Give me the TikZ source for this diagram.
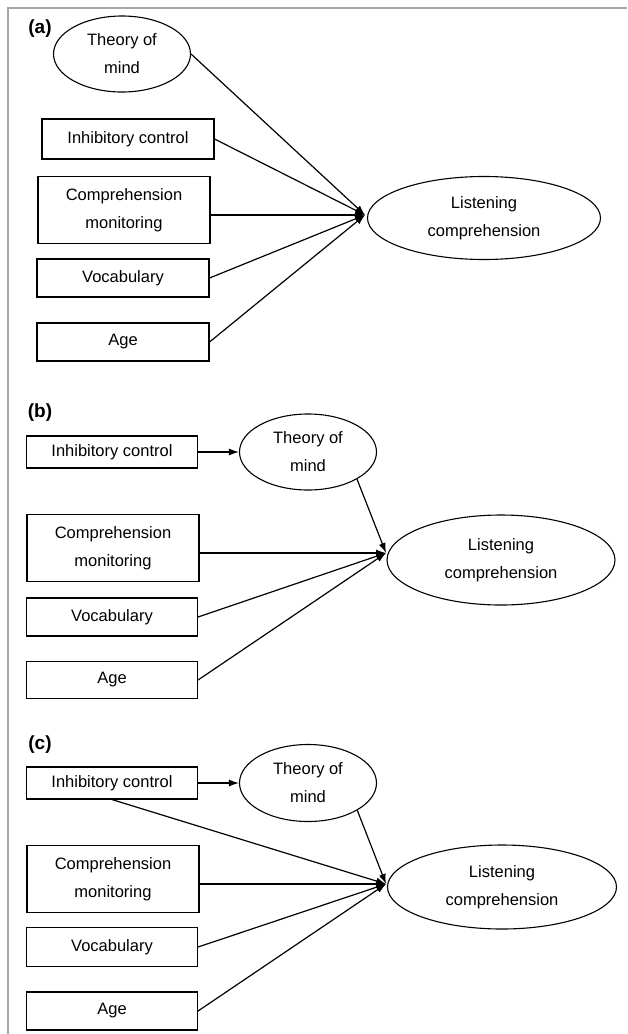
\documentclass[tikz,border=0pt]{standalone}
\usepackage{fontspec}
\setmainfont{Liberation Sans}
\usetikzlibrary{shapes.geometric,arrows.meta}
\begin{document}
\begin{tikzpicture}[x=1pt,y=-1pt,
  every node/.style={font=\fontsize{16.5}{28}\selectfont, inner sep=0pt, align=center},
  var/.style={draw, line width=1.1pt, minimum width=172pt},
  lat/.style={draw, ellipse, line width=1.1pt},
  lbl/.style={font=\bfseries\fontsize{19}{22}\selectfont},
  arr/.style={line width=1.2pt, -{Latex[length=10pt,width=7pt]}},
  frame/.style={draw=black!35, line width=1.5pt}
]
\useasboundingbox (0,0) rectangle (627,1034);
\draw[frame] (627,8) -- (8,8) -- (8,1034);

% ---------- (a)
\node[lbl] (la) at (40,29) {(a)};
\node[lat, minimum width=137pt, minimum height=76pt] (toma) at (122,54) {Theory of\\mind};
\node[var, minimum height=40pt] (ica) at (128,139) {Inhibitory control};
\node[var, minimum height=67pt] (cma) at (124,210) {Comprehension\\monitoring};
\node[var, minimum height=38pt] (voa) at (123,278) {Vocabulary};
\node[var, minimum height=38pt] (aga) at (123,342) {Age};
\node[lat, minimum width=233pt, minimum height=83pt] (lca) at (484,218) {Listening\\comprehension};
\coordinate (ta) at (365,215);
\draw[arr] (toma.east) -- (ta);
\draw[arr] (ica.east) -- (ta);
\draw[arr] (cma.east |- ta) -- (ta);
\draw[arr] (voa.east) -- (ta);
\draw[arr] (aga.east) -- (ta);

% ---------- (b)
\node[lbl] (lb) at (40,413) {(b)};
\node[var, minimum width=171pt, minimum height=32pt] (icb) at (112,452) {Inhibitory control};
\node[lat, minimum width=137pt, minimum height=76pt] (tomb) at (308,452) {Theory of\\mind};
\node[var, minimum height=67pt] (cmb) at (113,548) {Comprehension\\monitoring};
\node[var, minimum width=171pt, minimum height=38pt] (vob) at (112,617) {Vocabulary};
\node[var, minimum width=171pt, minimum height=37pt] (agb) at (112,680) {Age};
\node[lat, minimum width=228pt, minimum height=90pt] (lcb) at (501,560) {Listening\\comprehension};
\coordinate (tb) at (386,553);
\draw[arr] (icb.east) -- (tomb.west);
\draw[arr] (tomb.-29) -- (tb);
\draw[arr] (cmb.east |- tb) -- (tb);
\draw[arr] (vob.east) -- (tb);
\draw[arr] (agb.east) -- (tb);

% ---------- (c)
\node[lbl] (lc) at (40,745) {(c)};
\node[var, minimum width=171pt, minimum height=32pt] (icc) at (112,783) {Inhibitory control};
\node[lat, minimum width=137pt, minimum height=77pt] (tomc) at (308,783) {Theory of\\mind};
\node[var, minimum height=67pt] (cmc) at (113,879) {Comprehension\\monitoring};
\node[var, minimum width=171pt, minimum height=39pt] (voc) at (112,947) {Vocabulary};
\node[var, minimum width=171pt, minimum height=38pt] (agc) at (112,1011) {Age};
\node[lat, minimum width=229pt, minimum height=84pt] (lcc) at (502,887) {Listening\\comprehension};
\coordinate (tc) at (386,884);
\draw[arr] (icc.east) -- (tomc.west);
\draw[arr] (icc.south) -- (tc);
\draw[arr] (tomc.-29) -- (tc);
\draw[arr] (cmc.east |- tc) -- (tc);
\draw[arr] (voc.east) -- (tc);
\draw[arr] (agc.east) -- (tc);
\end{tikzpicture}
\end{document}
